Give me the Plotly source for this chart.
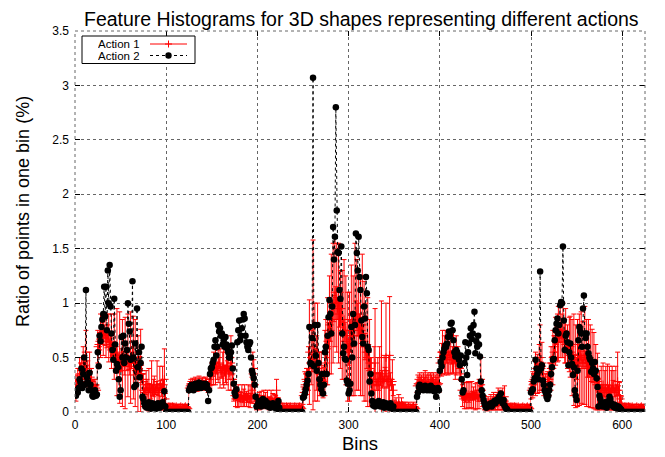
import plotly.graph_objects as go

# ---------------- data ----------------
# Action 2 (black dots), bins 0..624, five blocks of 125 bins
action2_block0 = [
    0.17, 0.15, 0.2, 0.18, 0.22, 0.3, 0.27, 0.4, 0.22, 0.35,
    0.5, 0.25, 1.12, 0.32, 0.27, 0.2, 0.36, 0.25, 0.2, 0.15,
    0.14, 0.17, 0.2, 0.15, 0.16,
    0.55, 0.42, 0.7, 0.65, 0.78, 0.85, 0.9, 1.15, 0.88, 1.15,
    0.75, 1.3, 1.0, 1.35, 0.97, 0.72, 0.57, 0.48, 1.04, 0.62,
    0.38, 0.44, 0.41, 0.3, 0.14, 0.2, 0.69, 0.5, 0.7, 0.45,
    0.63, 0.5, 0.57, 1.0, 0.81, 0.74, 0.48, 0.49, 1.2, 0.5,
    0.23, 0.63, 0.25, 0.95, 0.41, 0.55, 0.32, 0.45, 0.6, 0.14,
    0.12, 0.08, 0.05, 0.06, 0.04, 0.07, 0.09, 0.05, 0.03, 0.06,
    0.08, 0.04, 0.05, 0.07, 0.03, 0.05, 0.08, 0.06, 0.04, 0.05,
    0.07, 0.09, 0.06, 0.19, 0.05,
    0, 0, 0, 0, 0, 0, 0, 0, 0, 0, 0, 0, 0, 0, 0, 0, 0, 0, 0, 0, 0, 0, 0, 0, 0,
]
action2_block1 = [
    0.2, 0.22, 0.24, 0.25, 0.22, 0.2, 0.23, 0.26, 0.24, 0.22,
    0.25, 0.27, 0.24, 0.22, 0.25, 0.26, 0.24, 0.23, 0.26, 0.25,
    0.22, 0.1, 0.2, 0.35, 0.4,
    0.41, 0.45, 0.48, 0.6, 0.66, 0.52, 0.6, 0.8, 0.74, 0.77,
    0.7, 0.72, 0.62, 0.66, 0.6, 0.69, 0.62, 0.58, 0.55, 0.5,
    0.5, 0.55, 0.61, 0.4, 0.26, 0.18, 0.15, 0.21, 0.64, 0.75,
    0.84, 0.66, 0.7, 0.77, 0.85, 0.9, 0.86, 0.7, 0.64, 0.6,
    0.57, 0.62, 0.64, 0.5, 0.38, 0.35, 0.31, 0.25, 0.14, 0.05,
    0.06, 0.08, 0.1, 0.07, 0.05, 0.09, 0.12, 0.08, 0.06, 0.1,
    0.07, 0.05, 0.08, 0.06, 0.04, 0.07, 0.05, 0.08, 0.06, 0.04,
    0.05, 0.03, 0.07, 0.1, 0.04,
    0, 0, 0, 0, 0, 0, 0, 0, 0, 0, 0, 0, 0, 0, 0, 0, 0, 0, 0, 0, 0, 0, 0, 0, 0,
]
action2_block2 = [
    0.13, 0.14, 0.17, 0.21, 0.25, 0.29, 0.35, 0.78, 0.45, 0.44,
    0.68, 3.07, 0.42, 0.8, 0.52, 0.38, 0.8, 0.45, 0.3, 0.25,
    0.21, 0.35, 0.17, 0.25, 0.55,
    0.6, 0.35, 0.7, 0.87, 1.03, 0.9, 0.72, 0.97, 1.7, 1.4,
    1.61, 2.8, 1.85, 1.47, 1.46, 1.12, 1.04, 1.52, 0.72, 0.54,
    0.6, 0.49, 0.48, 0.29, 0.26, 0.17, 0.2, 0.26, 0.78, 0.5,
    0.9, 0.63, 0.8, 1.64, 1.46, 1.3, 1.61, 1.24, 1.12, 0.84,
    0.69, 0.63, 0.97, 0.86, 1.24, 1.09, 0.6, 0.57, 0.28, 0.35,
    0.17, 0.1, 0.06, 0.08, 0.05, 0.07, 0.09, 0.06, 0.1, 0.08,
    0.05, 0.07, 0.06, 0.09, 0.04, 0.06, 0.08, 0.05, 0.07, 0.04,
    0.06, 0.08, 0.05, 0.03, 0.05,
    0, 0, 0, 0, 0, 0, 0, 0, 0, 0, 0, 0, 0, 0, 0, 0, 0, 0, 0, 0, 0, 0, 0, 0, 0,
]
action2_block3 = [
    0.14, 0.18, 0.23, 0.25, 0.22, 0.21, 0.23, 0.2, 0.22, 0.24,
    0.21, 0.2, 0.23, 0.22, 0.2, 0.24, 0.21, 0.2, 0.22, 0.19,
    0.21, 0.14, 0.2, 0.22, 0.2,
    0.38, 0.46, 0.42, 0.5, 0.55, 0.58, 0.61, 0.6, 0.63, 0.69,
    0.74, 0.7, 0.81, 0.82, 0.75, 0.66, 0.55, 0.51, 0.57, 0.55,
    0.52, 0.48, 0.43, 0.52, 0.3, 0.18, 0.2, 0.45, 0.64, 0.5,
    0.34, 0.55, 0.63, 0.7, 0.77, 0.67, 0.72, 0.8, 0.92, 0.54,
    0.65, 0.6, 0.7, 0.62, 0.51, 0.28, 0.2, 0.15, 0.11, 0.08,
    0.05, 0.04, 0.06, 0.05, 0.07, 0.06, 0.08, 0.05, 0.07, 0.09,
    0.1, 0.08, 0.11, 0.1, 0.12, 0.14, 0.12, 0.17, 0.1, 0.08,
    0.11, 0.06, 0.04, 0.03, 0.02,
    0, 0, 0, 0, 0, 0, 0, 0, 0, 0, 0, 0, 0, 0, 0, 0, 0, 0, 0, 0, 0, 0, 0, 0, 0,
]
action2_block4 = [
    0.18, 0.2, 0.21, 0.28, 0.31, 0.48, 0.4, 0.35, 0.3, 0.38,
    1.29, 0.4, 0.43, 0.29, 0.25, 0.2, 0.18, 0.14, 0.12, 0.15,
    0.2, 0.25, 0.35, 0.41, 0.48,
    0.49, 0.66, 0.75, 0.81, 0.86, 0.72, 0.8, 0.98, 1.01, 1.0,
    1.52, 0.84, 0.57, 0.7, 0.72, 0.64, 0.43, 0.55, 0.63, 0.5,
    0.44, 0.34, 0.41, 0.2, 0.15, 0.11, 0.38, 0.66, 0.78, 0.74,
    0.72, 0.6, 0.95, 1.07, 0.72, 0.68, 0.72, 0.6, 0.54, 0.5,
    0.48, 0.37, 0.45, 0.4, 0.35, 0.46, 0.38, 0.31, 0.23, 0.05,
    0.15, 0.12, 0.08, 0.06, 0.05, 0.07, 0.09, 0.06, 0.04, 0.08,
    0.1, 0.14, 0.12, 0.08, 0.06, 0.05, 0.07, 0.04, 0.06, 0.05,
    0.03, 0.05, 0.04, 0.03, 0.02,
    0, 0, 0, 0, 0, 0, 0, 0, 0, 0, 0, 0, 0, 0, 0, 0, 0, 0, 0, 0, 0, 0, 0, 0, 0,
]

# Action 1 (red, mean value per bin)
action1_block0 = [
    0.2, 0.22, 0.25, 0.3, 0.28, 0.35, 0.4, 0.38, 0.3, 0.45,
    0.42, 0.4, 0.55, 0.38, 0.35, 0.3, 0.4, 0.32, 0.3, 0.25,
    0.22, 0.2, 0.24, 0.22, 0.2,
    0.6, 0.62, 0.65, 0.7, 0.68, 0.72, 0.7, 0.75, 0.68, 0.7,
    0.65, 0.72, 0.68, 0.62, 0.6, 0.65, 0.58, 0.55, 0.6, 0.52,
    0.5, 0.55, 0.48, 0.45, 0.5, 0.42, 0.48, 0.45, 0.5, 0.42,
    0.45, 0.5, 0.48, 0.52, 0.45, 0.42, 0.5, 0.45, 0.55, 0.5,
    0.4, 0.45, 0.38, 0.42, 0.35, 0.4, 0.45, 0.38, 0.35, 0.3,
    0.2, 0.18, 0.22, 0.2, 0.25, 0.18, 0.2, 0.22, 0.18, 0.25,
    0.2, 0.22, 0.18, 0.2, 0.22, 0.25, 0.2, 0.18, 0.22, 0.25,
    0.2, 0.22, 0.25, 0.3, 0.12,
    0.04, 0.03, 0.04, 0.05, 0.03, 0.04, 0.03, 0.05, 0.04, 0.03,
    0.04, 0.05, 0.03, 0.04, 0.03, 0.04, 0.05, 0.03, 0.04, 0.03,
    0.04, 0.05, 0.03, 0.04, 0.03,
]
action1_block1 = [
    0.22, 0.24, 0.25, 0.23, 0.26, 0.24, 0.25, 0.27, 0.25, 0.23,
    0.26, 0.28, 0.25, 0.24, 0.26, 0.27, 0.25, 0.24, 0.27, 0.26,
    0.24, 0.22, 0.25, 0.3, 0.33,
    0.35, 0.38, 0.4, 0.42, 0.45, 0.4, 0.38, 0.42, 0.45, 0.4,
    0.38, 0.36, 0.4, 0.42, 0.38, 0.35, 0.4, 0.42, 0.38, 0.36,
    0.4, 0.45, 0.42, 0.3, 0.2, 0.15, 0.12, 0.14, 0.12, 0.15,
    0.13, 0.12, 0.14, 0.15, 0.12, 0.13, 0.15, 0.14, 0.12, 0.13,
    0.15, 0.12, 0.14, 0.13, 0.2, 0.35, 0.4, 0.25, 0.12, 0.08,
    0.1, 0.12, 0.1, 0.08, 0.12, 0.1, 0.09, 0.12, 0.1, 0.11,
    0.09, 0.12, 0.1, 0.08, 0.1, 0.12, 0.09, 0.1, 0.08, 0.1,
    0.12, 0.2, 0.1, 0.08, 0.06,
    0.04, 0.03, 0.04, 0.05, 0.03, 0.04, 0.03, 0.05, 0.04, 0.03,
    0.04, 0.05, 0.03, 0.04, 0.03, 0.04, 0.05, 0.03, 0.04, 0.03,
    0.04, 0.05, 0.03, 0.04, 0.03,
]
action1_block2 = [
    0.15, 0.18, 0.25, 0.3, 0.28, 0.35, 0.4, 0.55, 0.45, 0.5,
    0.45, 0.8, 0.5, 0.55, 0.5, 0.45, 0.55, 0.4, 0.35, 0.3,
    0.35, 0.3, 0.28, 0.35, 0.45,
    0.55, 0.6, 0.65, 0.7, 0.8, 0.75, 0.9, 0.85, 1.0, 0.95,
    1.1, 1.0, 1.05, 0.95, 1.0, 0.9, 0.85, 0.95, 0.8, 0.75,
    0.85, 0.7, 0.75, 0.65, 0.6, 0.55, 0.6, 0.7, 0.75, 0.8,
    0.7, 0.75, 0.85, 0.9, 0.8, 0.85, 0.75, 0.8, 0.7, 0.75,
    0.8, 0.7, 0.65, 0.6, 0.55, 0.5, 0.55, 0.5, 0.45, 0.4,
    0.3, 0.25, 0.28, 0.35, 0.45, 0.3, 0.25, 0.3, 0.28, 0.35,
    0.3, 0.5, 0.3, 0.28, 0.3, 0.35, 0.5, 0.3, 0.28, 0.3,
    0.52, 0.3, 0.25, 0.28, 0.2,
    0.06, 0.05, 0.07, 0.06, 0.05, 0.08, 0.06, 0.05, 0.07, 0.06,
    0.05, 0.04, 0.05, 0.04, 0.03, 0.04, 0.05, 0.03, 0.04, 0.03,
    0.04, 0.05, 0.03, 0.04, 0.03,
]
action1_block3 = [
    0.24, 0.26, 0.25, 0.27, 0.25, 0.26, 0.24, 0.27, 0.25, 0.28,
    0.26, 0.25, 0.27, 0.26, 0.24, 0.27, 0.26, 0.25, 0.27, 0.24,
    0.26, 0.25, 0.27, 0.25, 0.26,
    0.45, 0.5, 0.48, 0.55, 0.5, 0.52, 0.55, 0.5, 0.48, 0.52,
    0.55, 0.5, 0.53, 0.5, 0.48, 0.55, 0.5, 0.45, 0.52, 0.5,
    0.48, 0.45, 0.4, 0.35, 0.2, 0.15, 0.14, 0.15, 0.13, 0.15,
    0.14, 0.16, 0.13, 0.15, 0.14, 0.16, 0.15, 0.13, 0.15, 0.14,
    0.16, 0.15, 0.13, 0.15, 0.2, 0.3, 0.2, 0.15, 0.12, 0.08,
    0.06, 0.07, 0.05, 0.08, 0.06, 0.07, 0.09, 0.06, 0.08, 0.1,
    0.07, 0.09, 0.08, 0.1, 0.12, 0.09, 0.11, 0.1, 0.08, 0.12,
    0.1, 0.14, 0.08, 0.06, 0.05,
    0.04, 0.03, 0.04, 0.05, 0.03, 0.04, 0.03, 0.05, 0.04, 0.03,
    0.04, 0.05, 0.03, 0.04, 0.03, 0.04, 0.05, 0.03, 0.04, 0.03,
    0.04, 0.05, 0.03, 0.04, 0.03,
]
action1_block4 = [
    0.2, 0.22, 0.25, 0.3, 0.32, 0.35, 0.4, 0.35, 0.38, 0.4,
    0.5, 0.4, 0.42, 0.35, 0.3, 0.28, 0.25, 0.22, 0.25, 0.28,
    0.3, 0.35, 0.4, 0.45, 0.5,
    0.55, 0.6, 0.65, 0.7, 0.68, 0.72, 0.7, 0.75, 0.72, 0.7,
    0.75, 0.68, 0.65, 0.7, 0.62, 0.6, 0.58, 0.62, 0.6, 0.55,
    0.5, 0.52, 0.48, 0.45, 0.42, 0.4, 0.45, 0.5, 0.48, 0.52,
    0.5, 0.48, 0.45, 0.5, 0.52, 0.48, 0.45, 0.42, 0.45, 0.4,
    0.42, 0.38, 0.4, 0.35, 0.38, 0.35, 0.32, 0.3, 0.28, 0.25,
    0.2, 0.18, 0.22, 0.2, 0.25, 0.18, 0.2, 0.22, 0.18, 0.24,
    0.2, 0.22, 0.18, 0.2, 0.22, 0.24, 0.2, 0.18, 0.22, 0.2,
    0.28, 0.2, 0.15, 0.12, 0.08,
    0.04, 0.03, 0.04, 0.05, 0.03, 0.04, 0.03, 0.05, 0.04, 0.03,
    0.04, 0.05, 0.03, 0.04, 0.03, 0.04, 0.05, 0.03, 0.04, 0.03,
    0.04, 0.05, 0.03, 0.04, 0.03,
]

# Action 1 error bar half-lengths
action1_err_block0 = [
    0.05, 0.12, 0.04, 0.1, 0.05, 0.15, 0.05, 0.12, 0.04, 0.15,
    0.05, 0.12, 0.2, 0.05, 0.12, 0.04, 0.15, 0.05, 0.1, 0.04,
    0.06, 0.03, 0.06, 0.03, 0.05,
    0.15, 0.05, 0.08, 0.2, 0.06, 0.1, 0.18, 0.05, 0.07, 0.2,
    0.06, 0.08, 0.22, 0.05, 0.1, 0.25, 0.06, 0.08, 0.3, 0.05,
    0.1, 0.4, 0.06, 0.08, 0.42, 0.05, 0.1, 0.4, 0.06, 0.08,
    0.42, 0.05, 0.1, 0.38, 0.06, 0.08, 0.42, 0.05, 0.1, 0.38,
    0.06, 0.4, 0.08, 0.05, 0.35, 0.1, 0.06, 0.38, 0.08, 0.05,
    0.15, 0.04, 0.06, 0.18, 0.05, 0.08, 0.2, 0.04, 0.06, 0.22,
    0.05, 0.08, 0.15, 0.04, 0.06, 0.22, 0.05, 0.08, 0.2, 0.04,
    0.06, 0.2, 0.05, 0.28, 0.05,
    0.03, 0.01, 0.02, 0.03, 0.01, 0.03, 0.02, 0.03, 0.01, 0.02,
    0.03, 0.01, 0.02, 0.03, 0.01, 0.03, 0.02, 0.01, 0.03, 0.02,
    0.03, 0.01, 0.02, 0.03, 0.02,
]
action1_err_block1 = [
    0.04, 0.04, 0.05, 0.04, 0.05, 0.04, 0.05, 0.05, 0.04, 0.04,
    0.05, 0.05, 0.04, 0.04, 0.05, 0.05, 0.04, 0.04, 0.05, 0.05,
    0.04, 0.04, 0.05, 0.06, 0.08,
    0.1, 0.05, 0.15, 0.06, 0.2, 0.05, 0.08, 0.15, 0.05, 0.18,
    0.06, 0.05, 0.15, 0.2, 0.05, 0.08, 0.15, 0.05, 0.18, 0.06,
    0.05, 0.25, 0.08, 0.05, 0.1, 0.03, 0.07, 0.03, 0.08, 0.1,
    0.03, 0.07, 0.04, 0.1, 0.03, 0.08, 0.1, 0.03, 0.07, 0.04,
    0.1, 0.03, 0.1, 0.04, 0.12, 0.2, 0.08, 0.15, 0.04, 0.06,
    0.06, 0.03, 0.08, 0.03, 0.07, 0.03, 0.06, 0.08, 0.03, 0.07,
    0.03, 0.08, 0.03, 0.06, 0.03, 0.08, 0.03, 0.07, 0.03, 0.06,
    0.03, 0.1, 0.03, 0.05, 0.03,
    0.02, 0.01, 0.02, 0.03, 0.01, 0.02, 0.02, 0.03, 0.01, 0.02,
    0.02, 0.03, 0.01, 0.02, 0.02, 0.02, 0.03, 0.01, 0.02, 0.02,
    0.02, 0.03, 0.01, 0.02, 0.02,
]
action1_err_block2 = [
    0.08, 0.03, 0.12, 0.05, 0.12, 0.05, 0.2, 0.48, 0.05, 0.25,
    0.08, 0.78, 0.1, 0.45, 0.08, 0.25, 0.45, 0.05, 0.2, 0.06,
    0.2, 0.05, 0.15, 0.06, 0.3,
    0.3, 0.1, 0.4, 0.12, 0.45, 0.1, 0.55, 0.15, 0.55, 0.12,
    0.5, 0.15, 0.5, 0.1, 0.55, 0.12, 0.45, 0.15, 0.5, 0.1,
    0.55, 0.12, 0.5, 0.1, 0.5, 0.12, 0.5, 0.15, 0.6, 0.12,
    0.55, 0.15, 0.7, 0.12, 0.6, 0.15, 0.55, 0.1, 0.55, 0.12,
    0.65, 0.1, 0.55, 0.12, 0.45, 0.1, 0.5, 0.12, 0.4, 0.1,
    0.2, 0.05, 0.08, 0.25, 0.5, 0.06, 0.05, 0.2, 0.08, 0.25,
    0.06, 0.52, 0.08, 0.05, 0.22, 0.06, 0.5, 0.08, 0.05, 0.22,
    0.54, 0.06, 0.05, 0.2, 0.05,
    0.05, 0.02, 0.06, 0.03, 0.04, 0.08, 0.02, 0.04, 0.06, 0.02,
    0.04, 0.02, 0.04, 0.03, 0.01, 0.03, 0.04, 0.01, 0.03, 0.02,
    0.03, 0.04, 0.01, 0.03, 0.02,
]
action1_err_block3 = [
    0.06, 0.08, 0.07, 0.09, 0.07, 0.08, 0.06, 0.09, 0.07, 0.1,
    0.08, 0.07, 0.09, 0.08, 0.06, 0.09, 0.08, 0.07, 0.09, 0.06,
    0.08, 0.07, 0.09, 0.07, 0.08,
    0.1, 0.05, 0.15, 0.2, 0.06, 0.18, 0.2, 0.05, 0.12, 0.18,
    0.2, 0.05, 0.18, 0.06, 0.12, 0.2, 0.05, 0.15, 0.18, 0.06,
    0.12, 0.05, 0.1, 0.06, 0.08, 0.1, 0.03, 0.12, 0.04, 0.12,
    0.03, 0.12, 0.04, 0.12, 0.03, 0.12, 0.04, 0.1, 0.03, 0.12,
    0.04, 0.12, 0.03, 0.12, 0.04, 0.2, 0.05, 0.1, 0.03, 0.06,
    0.04, 0.02, 0.04, 0.06, 0.02, 0.05, 0.07, 0.02, 0.06, 0.08,
    0.02, 0.07, 0.03, 0.08, 0.1, 0.03, 0.09, 0.03, 0.06, 0.1,
    0.03, 0.1, 0.03, 0.04, 0.02,
    0.03, 0.01, 0.02, 0.03, 0.01, 0.03, 0.02, 0.03, 0.01, 0.02,
    0.03, 0.01, 0.02, 0.03, 0.01, 0.03, 0.02, 0.01, 0.03, 0.02,
    0.03, 0.01, 0.02, 0.03, 0.02,
]
action1_err_block4 = [
    0.08, 0.04, 0.12, 0.05, 0.15, 0.2, 0.05, 0.18, 0.06, 0.22,
    0.3, 0.06, 0.22, 0.05, 0.15, 0.04, 0.1, 0.04, 0.12, 0.05,
    0.15, 0.05, 0.2, 0.06, 0.25,
    0.15, 0.05, 0.22, 0.08, 0.22, 0.25, 0.06, 0.25, 0.08, 0.2,
    0.25, 0.06, 0.2, 0.25, 0.08, 0.2, 0.06, 0.25, 0.28, 0.08,
    0.35, 0.1, 0.42, 0.08, 0.38, 0.1, 0.4, 0.12, 0.42, 0.1,
    0.42, 0.08, 0.38, 0.1, 0.45, 0.08, 0.4, 0.1, 0.4, 0.08,
    0.38, 0.1, 0.36, 0.08, 0.35, 0.1, 0.3, 0.08, 0.26, 0.06,
    0.18, 0.04, 0.2, 0.05, 0.2, 0.04, 0.18, 0.2, 0.04, 0.2,
    0.05, 0.2, 0.04, 0.18, 0.2, 0.05, 0.18, 0.04, 0.2, 0.05,
    0.27, 0.04, 0.12, 0.03, 0.06,
    0.03, 0.01, 0.02, 0.03, 0.01, 0.03, 0.02, 0.03, 0.01, 0.02,
    0.03, 0.01, 0.02, 0.03, 0.01, 0.03, 0.02, 0.01, 0.03, 0.02,
    0.03, 0.01, 0.02, 0.03, 0.02,
]

x_tick_values = [0, 100, 200, 300, 400, 500, 600]
y_tick_values = [0, 0.5, 1, 1.5, 2, 2.5, 3, 3.5]
series_names = ["Action 1", "Action 2"]
title_text = "Feature Histograms for 3D shapes representing different actions"
x_title = "Bins"
y_title = "Ratio of points in one bin (%)"

# ---------------- assemble ----------------
action1 = action1_block0 + action1_block1 + action1_block2 + action1_block3 + action1_block4
action1_err = (action1_err_block0 + action1_err_block1 + action1_err_block2
               + action1_err_block3 + action1_err_block4)
action2 = action2_block0 + action2_block1 + action2_block2 + action2_block3 + action2_block4
assert len(action1) == 625, len(action1)
assert len(action1_err) == 625, len(action1_err)
assert len(action2) == 625, len(action2)
bins = list(range(len(action1)))

FONT = "Liberation Sans, Arial, Helvetica, sans-serif"
RED = "#ff0000"

fig = go.Figure()
fig.add_trace(go.Scatter(
    x=bins, y=action1, name=series_names[0], mode="lines+markers",
    line=dict(color="rgba(255,0,0,0.55)", width=1),
    marker=dict(symbol="cross-thin", size=6, color=RED, line=dict(color=RED, width=1)),
    error_y=dict(type="data", array=action1_err, color=RED, thickness=1, width=2.5),
    showlegend=False,
))
fig.add_trace(go.Scatter(
    x=bins, y=action2, name=series_names[1], mode="lines+markers",
    line=dict(color="black", width=1, dash="3px,3px"),
    marker=dict(symbol="circle", size=6.5, color="black"),
    showlegend=False,
))

# The page body has an 8px default margin, so the figure is drawn at (8, 8).
OFF = 8
PAGE_W, PAGE_H = 665, 457
W, H = PAGE_W - OFF, PAGE_H - OFF
PLOT_LEFT, PLOT_RIGHT, PLOT_TOP, PLOT_BOTTOM = 75, 645, 31, 412   # page pixels
L, R = PLOT_LEFT - OFF, PAGE_W - PLOT_RIGHT
T, B = PLOT_TOP - OFF, PAGE_H - PLOT_BOTTOM
pw, ph = PLOT_RIGHT - PLOT_LEFT, PLOT_BOTTOM - PLOT_TOP


def px2paper_x(px):
    return (px - PLOT_LEFT) / pw


def px2paper_y(py):
    return (PLOT_BOTTOM - py) / ph


axis_common = dict(
    showgrid=True, gridcolor="#666666", griddash="dot", gridwidth=1,
    zeroline=False, showline=False,
    ticks="inside", ticklen=5, tickcolor="black", tickwidth=1,
    mirror="ticks",
    tickfont=dict(family=FONT, size=12, color="black"),
)
fig.update_layout(
    width=W, height=H,
    margin=dict(l=L, r=R, t=T, b=B),
    paper_bgcolor="white", plot_bgcolor="white",
    font=dict(family=FONT, color="black"),
    xaxis=dict(range=[0, 625], tickvals=x_tick_values, ticklabelstandoff=4, **axis_common),
    yaxis=dict(range=[0, 3.5], tickvals=y_tick_values, ticklabelstandoff=5, **axis_common),
)

shapes = [
    # dotted border
    dict(type="rect", xref="paper", yref="paper", x0=0, y0=0, x1=1, y1=1,
         line=dict(color="#666666", width=1, dash="dot")),
    # legend box
    dict(type="rect", xref="paper", yref="paper",
         x0=px2paper_x(82), x1=px2paper_x(195), y0=px2paper_y(63.5), y1=px2paper_y(36),
         line=dict(color="black", width=1), fillcolor="white"),
    # legend samples
    dict(type="line", xref="paper", yref="paper",
         x0=px2paper_x(150), x1=px2paper_x(187), y0=px2paper_y(44), y1=px2paper_y(44),
         line=dict(color=RED, width=1)),
    dict(type="line", xref="paper", yref="paper",
         x0=px2paper_x(150), x1=px2paper_x(187), y0=px2paper_y(55.5), y1=px2paper_y(55.5),
         line=dict(color="black", width=1, dash="3px,3px")),
    # red + marker
    dict(type="line", xref="paper", yref="paper", xsizemode="pixel", ysizemode="pixel",
         xanchor=px2paper_x(168.5), yanchor=px2paper_y(44), x0=-3.5, x1=3.5, y0=0, y1=0,
         line=dict(color=RED, width=1)),
    dict(type="line", xref="paper", yref="paper", xsizemode="pixel", ysizemode="pixel",
         xanchor=px2paper_x(168.5), yanchor=px2paper_y(44), x0=0, x1=0, y0=-3.5, y1=3.5,
         line=dict(color=RED, width=1)),
    # black dot marker
    dict(type="circle", xref="paper", yref="paper", xsizemode="pixel", ysizemode="pixel",
         xanchor=px2paper_x(168.5), yanchor=px2paper_y(55.5), x0=-3.2, x1=3.2, y0=-3.2, y1=3.2,
         line=dict(color="black", width=0), fillcolor="black"),
]
fig.update_layout(shapes=shapes)

annotations = [
    dict(text=title_text, xref="paper", yref="paper", x=px2paper_x(361), y=px2paper_y(19),
         xanchor="center", yanchor="middle", showarrow=False, height=22, borderpad=0,
         font=dict(family=FONT, size=19.5, color="black")),
    dict(text=x_title, xref="paper", yref="paper", x=0.5, y=px2paper_y(443),
         xanchor="center", yanchor="middle", showarrow=False,
         font=dict(family=FONT, size=18.5, color="black")),
    dict(text=y_title, xref="paper", yref="paper", x=px2paper_x(23), y=px2paper_y(212),
         xanchor="center", yanchor="middle", textangle=-90, showarrow=False,
         font=dict(family=FONT, size=18, color="black")),
    dict(text=series_names[0], xref="paper", yref="paper", x=px2paper_x(142), y=px2paper_y(43.5),
         xanchor="right", yanchor="middle", showarrow=False, height=11,
         font=dict(family=FONT, size=11.5, color="black")),
    dict(text=series_names[1], xref="paper", yref="paper", x=px2paper_x(142), y=px2paper_y(56),
         xanchor="right", yanchor="middle", showarrow=False, height=11,
         font=dict(family=FONT, size=11.5, color="black")),
]
fig.update_layout(annotations=annotations)

fig.write_html("out.html")
